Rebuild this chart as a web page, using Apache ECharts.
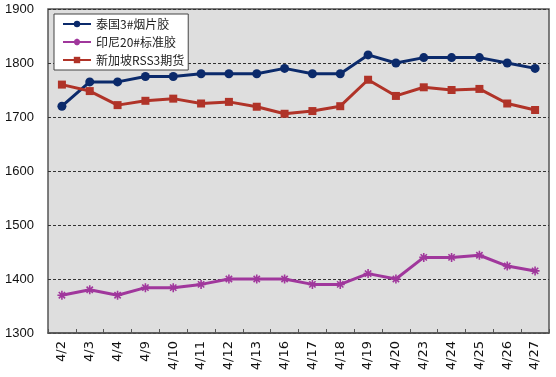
<!DOCTYPE html>
<html>
<head>
<meta charset="utf-8">
<script src="https://cdn.jsdelivr.net/npm/echarts@6/dist/echarts.min.js"></script>
<style>
html,body{margin:0;padding:0;background:#fff;}
#wrap{position:absolute;left:0;top:0;width:553px;height:374px;border-top:1px solid #333;border-left:1px solid #888;border-right:2px solid #222;border-bottom:2px solid #222;}
#c{position:absolute;left:-1px;top:-1px;width:556px;height:377px;}
</style>
</head>
<body>
<div id="wrap"><div id="c"></div></div>
<script>
var categories = ['4/2','4/3','4/4','4/9','4/10','4/11','4/12','4/13','4/16','4/17','4/18','4/19','4/20','4/23','4/24','4/25','4/26','4/27'];
var thaiRSS3 = [1720,1765,1765,1775,1775,1780,1780,1780,1790,1780,1780,1815,1800,1810,1810,1810,1800,1790];
var indoSIR20 = [1370,1380,1370,1384,1384,1390,1400,1400,1400,1390,1390,1410,1400,1440,1440,1444,1424,1415];
var sgxRSS3 = [1760,1748,1722,1730,1734,1725,1728,1719,1706,1711,1720,1769,1739,1755,1750,1752,1725,1713];
var seriesNames = ['泰国3#烟片胶','印尼20#标准胶','新加坡RSS3期货'];
var yTicks = {min:1300, max:1900, step:100};

var chart = echarts.init(document.getElementById('c'), null, {renderer:'canvas'});
var star = 'path://M0,5L10,5M5,0L5,10M1.5,1.5L8.5,8.5M1.5,8.5L8.5,1.5';
var font = 'Liberation Sans, Arial, "Noto Sans CJK SC", sans-serif';
chart.setOption({
  animation:false,
  backgroundColor:'#fff',
  textStyle:{fontFamily:font},
  grid:{left:48,right:7,top:9,bottom:44,show:true,backgroundColor:'#dedede',borderColor:'#555',borderWidth:1.5},
  legend:{
    orient:'vertical',left:54,top:14,
    backgroundColor:'#fff',borderColor:'#444',borderWidth:1,
    padding:[4,4,4,8],itemGap:6,itemWidth:28,itemHeight:8,
    textStyle:{fontSize:12,color:'#222',fontFamily:'"Noto Sans CJK SC", sans-serif'},
    data:seriesNames
  },
  xAxis:{
    type:'category',data:categories,boundaryGap:true,
    axisLine:{show:true,lineStyle:{color:'#555',width:1.5}},
    axisTick:{show:true,inside:true,length:4,lineStyle:{color:'#555'}},
    axisLabel:{rotate:90,fontSize:13,color:'#111',margin:8,fontFamily:'DejaVu Sans, sans-serif'}
  },
  yAxis:{
    type:'value',min:yTicks.min,max:yTicks.max,interval:yTicks.step,
    axisLine:{show:false},axisTick:{show:false},
    axisLabel:{fontSize:13,color:'#111',margin:14,formatter:function(v){return String(v);}},
    splitLine:{show:true,lineStyle:{color:'#333',type:[3,2],width:1}}
  },
  series:[
    {name:seriesNames[0],type:'line',data:thaiRSS3,symbol:'circle',symbolSize:9,
     lineStyle:{color:'#0b2a6b',width:3},itemStyle:{color:'#0b2a6b'}},
    {name:seriesNames[1],type:'line',data:indoSIR20,symbol:star,symbolSize:9,
     lineStyle:{color:'#a0379c',width:3},itemStyle:{color:'#a0379c',borderColor:'#a0379c',borderWidth:1.6}},
    {name:seriesNames[2],type:'line',data:sgxRSS3,symbol:'rect',symbolSize:8,
     lineStyle:{color:'#b03328',width:3},itemStyle:{color:'#b03328'}}
  ]
});
</script>
</body>
</html>
